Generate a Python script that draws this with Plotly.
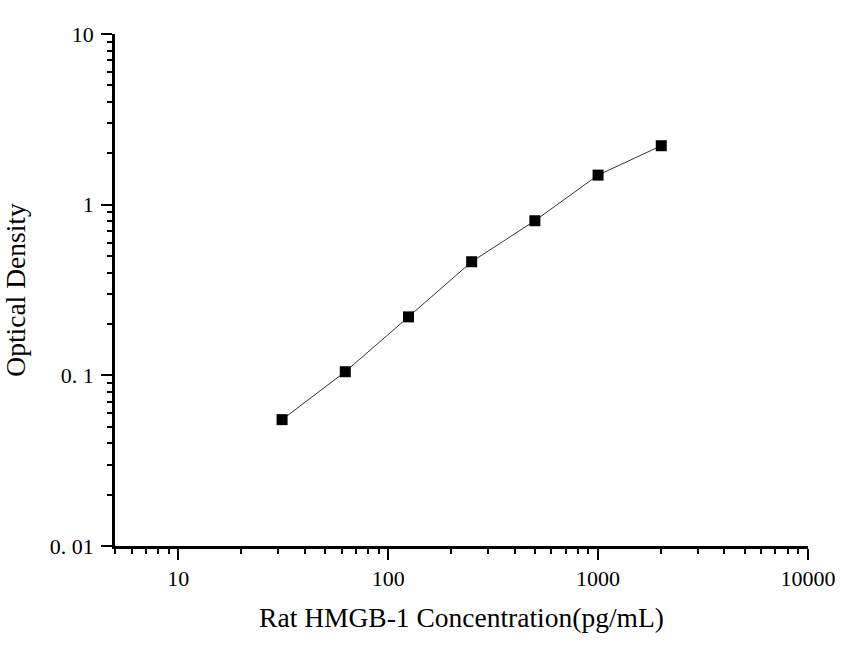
#!/usr/bin/env python3
"""Standard curve: Rat HMGB-1 ELISA (log-log)."""

import numpy as np
import plotly.graph_objects as go

# standard concentrations (pg/mL) and measured OD
concentration = [31.25, 62.5, 125, 250, 500, 1000, 2000]
optical_density = [0.055, 0.105, 0.220, 0.463, 0.805, 1.49, 2.215]

x_tickvals = [10, 100, 1000, 10000]
x_ticktext = ["10", "100", "1000", "10000"]
y_tickvals = [0.01, 0.1, 1, 10]
y_ticktext = ["0. 01", "0. 1", "1", "10"]

FONT = "Liberation Serif, Times New Roman, serif"

fig = go.Figure()
fig.add_trace(go.Scatter(
    x=concentration,
    y=optical_density,
    mode="lines+markers",
    line=dict(color="#333333", width=1),
    marker=dict(symbol="square", size=11, color="black"),
    showlegend=False,
))

axis_common = dict(
    type="log",
    showline=True,
    linecolor="black",
    linewidth=2.5,
    showgrid=False,
    zeroline=False,
    automargin=False,
    ticks="outside",
    ticklen=11,
    tickwidth=2,
    tickcolor="black",
    tickfont=dict(family=FONT, size=22, color="black"),
    minor=dict(ticks="outside", ticklen=5, tickwidth=2, tickcolor="black",
               dtick="D1", showgrid=False),
)

fig.update_xaxes(
    **axis_common,
    range=[np.log10(5), 4],
    tickvals=x_tickvals,
    ticktext=x_ticktext,
    title=dict(text="Rat HMGB-1 Concentration(pg/mL)",
               font=dict(family=FONT, size=27.5, color="black"), standoff=18),
)
fig.update_yaxes(
    **axis_common,
    range=[-2, 1],
    tickvals=y_tickvals,
    ticktext=y_ticktext,
    ticklabelstandoff=3,
    title=dict(text="Optical Density",
               font=dict(family=FONT, size=27.5, color="black"), standoff=23),
)

fig.update_layout(
    width=852,
    height=648,
    margin=dict(l=115, r=44, t=34, b=102),
    plot_bgcolor="white",
    paper_bgcolor="white",
)

# drop the default 8px body margin so the figure sits at the page corner
fig.write_html("out.html", config={"displayModeBar": False},
               post_script="document.body.style.margin='0';")
